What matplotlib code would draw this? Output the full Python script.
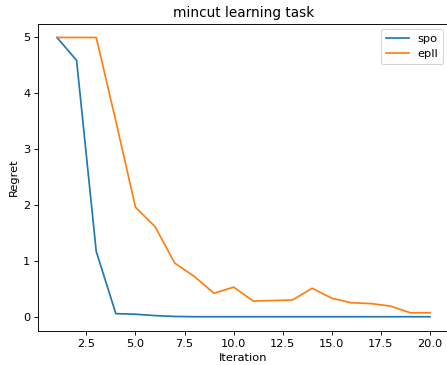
import numpy as np
import matplotlib
matplotlib.use('Agg')
import matplotlib.pyplot as plt

# data
iteration = list(range(1, 21))
spo  = [5.0, 4.59, 1.17, 0.055, 0.045, 0.02, 0.005, 0, 0, 0,
        0, 0, 0, 0, 0, 0, 0, 0, 0, 0]
epll = [5.0, 5.0, 5.0, 3.5, 1.96, 1.61, 0.96, 0.72, 0.42, 0.53,
        0.28, 0.29, 0.30, 0.51, 0.33, 0.25, 0.235, 0.19, 0.07, 0.07]

# the reference looks like a default figure rendered at a lower dpi
dpi = 82
fig = plt.figure(figsize=(447 / dpi, 365 / dpi), dpi=dpi)
ax = fig.add_axes([0.0857, 0.094, 0.918, 0.8416])

ax.plot(iteration, spo, label='spo')
ax.plot(iteration, epll, label='epll')

ax.set_title('mincut learning task')
ax.set_xlabel('Iteration')
ax.set_ylabel('Regret')
ax.legend(loc='upper right')

# right edge of the axes is cropped off in the reference
ax.spines['right'].set_visible(False)

fig.savefig('out.png', dpi=dpi)
